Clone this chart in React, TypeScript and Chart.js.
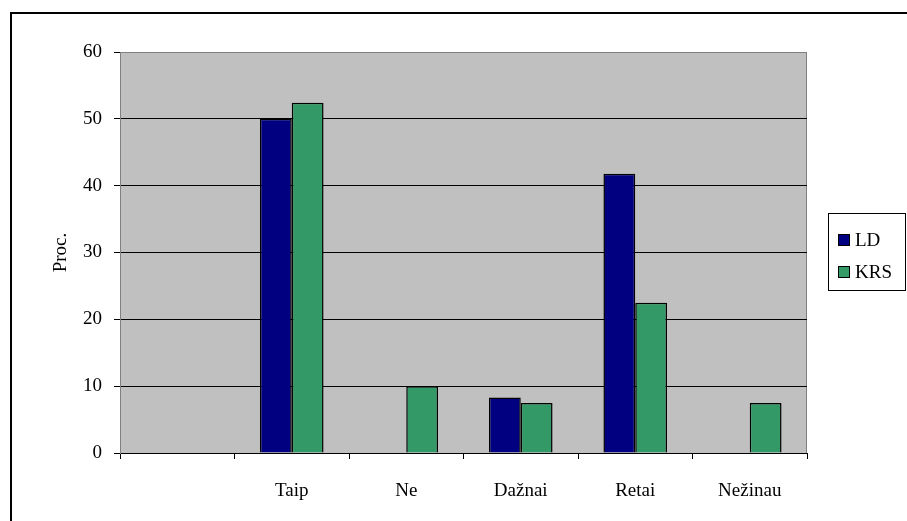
import React, { useEffect, useRef } from "react";
import { Chart, registerables } from "chart.js";

Chart.register(...registerables);

const categories = ["", "Taip", "Ne", "Dažnai", "Retai", "Nežinau"];
const ldValues = [0, 50, 0, 8.3, 41.8, 0];
const krsValues = [0, 52.4, 10, 7.5, 22.5, 7.5];
const seriesNames = ["LD", "KRS"];
const seriesColors = ["#000080", "#339966"];
const yTitle = "Proc.";

const FONT = "'Liberation Serif', 'Times New Roman', serif";

export default function App() {
  const ref = useRef<HTMLCanvasElement | null>(null);

  useEffect(() => {
    document.body.style.margin = "0";
    const canvas = ref.current;
    if (!canvas) return;

    const bgPlugin = {
      id: "plotBg",
      beforeDraw(chart: any) {
        const { ctx, chartArea } = chart;
        ctx.save();
        ctx.fillStyle = "#C0C0C0";
        ctx.fillRect(chartArea.left, chartArea.top, chartArea.right - chartArea.left, chartArea.bottom - chartArea.top);
        ctx.strokeStyle = "#808080";
        ctx.lineWidth = 1;
        ctx.beginPath();
        ctx.moveTo(chartArea.right - 0.5, chartArea.top);
        ctx.lineTo(chartArea.right - 0.5, chartArea.bottom);
        ctx.stroke();
        ctx.restore();
      },
      afterDraw(chart: any) {
        const { ctx } = chart;
        ctx.save();
        // outer frame
        ctx.strokeStyle = "#000";
        ctx.lineWidth = 2;
        ctx.beginPath();
        ctx.moveTo(11, 530);
        ctx.lineTo(11, 13);
        ctx.lineTo(920, 13);
        ctx.stroke();
        // legend
        ctx.lineWidth = 1;
        ctx.strokeRect(828.5, 213.5, 77, 77);
        ctx.font = `19px ${FONT}`;
        ctx.textBaseline = "middle";
        ctx.textAlign = "left";
        const ys = [240, 272];
        chart.data.datasets.forEach((ds: any, i: number) => {
          ctx.fillStyle = ds.backgroundColor;
          ctx.fillRect(838, ys[i] - 6, 12, 12);
          ctx.strokeStyle = "#000";
          ctx.strokeRect(838.5, ys[i] - 5.5, 11, 11);
          ctx.fillStyle = "#000";
          ctx.fillText(ds.label, 855, ys[i] + 1);
        });
        ctx.restore();
      },
    };

    const chart = new Chart(canvas, {
      type: "bar",
      data: {
        labels: categories,
        datasets: [
          {
            label: seriesNames[0],
            data: ldValues,
            backgroundColor: seriesColors[0],
            borderColor: "#000",
            borderWidth: 1.5,
            categoryPercentage: 1 / 1.8,
            barPercentage: 1,
          },
          {
            label: seriesNames[1],
            data: krsValues,
            backgroundColor: seriesColors[1],
            borderColor: "#000",
            borderWidth: 1.5,
            categoryPercentage: 1 / 1.8,
            barPercentage: 1,
          },
        ],
      },
      options: {
        animation: false,
        responsive: false,
        maintainAspectRatio: false,
        layout: { padding: { left: 0, top: 52, right: 100, bottom: 0 } },
        plugins: {
          legend: { display: false },
          tooltip: { enabled: false },
        },
        scales: {
          x: {
            grid: {
              offset: true,
              drawOnChartArea: false,
              drawTicks: true,
              tickLength: 6,
              color: "#000",
            },
            border: { color: "#000", width: 1 },
            ticks: {
              color: "#000",
              font: { family: FONT, size: 19 },
              padding: 21,
              maxRotation: 0,
              autoSkip: false,
            },
            afterFit(scale: any) {
              scale.height = 68;
            },
          },
          y: {
            min: 0,
            max: 60,
            ticks: {
              stepSize: 10,
              color: "#000",
              font: { family: FONT, size: 19 },
              padding: 12,
            },
            grid: {
              color: (c: any) => (c.tick && c.tick.value === 60 ? "#808080" : "#000"),
              tickColor: "#000",
              tickLength: 6,
              lineWidth: 1,
            },
            border: { color: "#808080", width: 1 },
            title: {
              display: true,
              text: yTitle,
              color: "#000",
              font: { family: FONT, size: 19, weight: "normal" },
              padding: { top: 50, bottom: 0 },
            },
            afterFit(scale: any) {
              scale.width = 120;
            },
          },
        },
      },
      plugins: [bgPlugin],
    } as any);

    return () => chart.destroy();
  }, []);

  return <canvas ref={ref} width={907} height={521} style={{ display: "block" }} />;
}
